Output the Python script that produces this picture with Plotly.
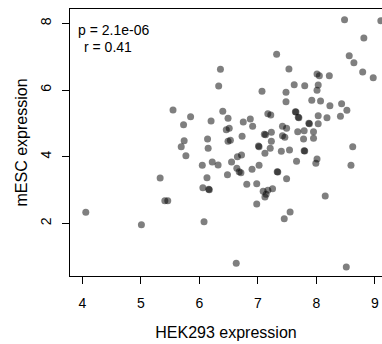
import plotly.graph_objects as go

# HEK293 expression (x) and mESC expression (y)
hek293 = [5.55, 5.73, 5.74, 5.69, 5.33, 5.41, 5.46, 4.06, 5.01, 7.32,
          6.36, 6.33, 7.07, 6.40, 5.85, 6.20, 6.49, 6.75, 6.87, 6.91,
          7.17, 7.22, 6.46, 6.51, 7.11, 7.13, 7.23, 6.73, 6.14, 6.49,
          6.53, 7.23, 8.48, 9.10, 8.81, 8.56, 8.64, 8.79, 8.97, 7.53,
          8.01, 8.05, 8.22, 7.62, 7.80, 8.03, 7.48, 8.01, 7.48, 7.92,
          8.07, 8.23, 8.43, 8.52, 8.41, 8.18, 8.03, 7.64, 7.69, 7.87,
          7.88, 8.03, 7.42, 7.49, 7.68, 7.79, 7.95, 7.42, 7.46, 7.78,
          7.95, 8.62, 5.77, 6.15, 7.01, 7.02, 7.21, 7.12, 7.40, 7.54,
          7.79, 7.80, 6.05, 6.22, 6.32, 6.55, 6.65, 6.72, 6.64, 6.68,
          6.71, 6.90, 7.02, 6.48, 6.13, 6.06, 6.16, 7.33, 7.34, 6.81,
          6.98, 7.09, 7.17, 7.14, 7.12, 7.25, 6.98, 6.08, 6.63, 7.66,
          8.01, 7.99, 8.59, 7.49, 8.15, 7.55, 7.45, 8.51, 6.17, 7.65,
          7.70]
mesc = [5.40, 4.96, 4.48, 4.30, 3.36, 2.68, 2.68, 2.33, 1.96, 7.07,
        6.62, 6.12, 5.96, 5.36, 5.20, 5.07, 5.15, 5.04, 5.13, 4.91,
        5.29, 5.25, 4.81, 4.85, 4.67, 4.66, 4.73, 4.61, 4.53, 4.46,
        4.49, 4.46, 8.11, 8.08, 7.56, 7.03, 6.82, 6.54, 6.37, 6.63,
        6.48, 6.43, 6.43, 6.16, 6.13, 6.15, 5.93, 5.99, 5.65, 5.69,
        5.67, 5.53, 5.59, 5.39, 5.21, 5.17, 5.23, 5.35, 5.18, 5.00,
        4.99, 4.99, 4.91, 4.85, 4.75, 4.78, 4.75, 4.63, 4.58, 4.53,
        4.55, 4.30, 4.03, 4.25, 4.32, 4.30, 4.25, 4.10, 4.16, 4.20,
        4.18, 4.17, 3.74, 3.84, 3.75, 3.84, 4.00, 4.05, 3.65, 3.55,
        3.52, 3.62, 3.74, 3.46, 3.37, 3.07, 3.02, 3.55, 3.54, 3.17,
        3.19, 2.96, 2.99, 2.87, 2.79, 3.04, 2.58, 2.05, 0.80, 3.86,
        3.93, 3.80, 3.74, 3.34, 2.82, 2.34, 2.14, 0.69, 3.01, 5.34,
        5.17]

x_ticks = [4, 5, 6, 7, 8, 9]
y_ticks = [2, 4, 6, 8]
stats_lines = ["p = 2.1e-06", "r = 0.41"]

FONT = "Liberation Sans, Arial, Helvetica, sans-serif"

fig = go.Figure()
fig.add_trace(go.Scatter(
    x=hek293, y=mesc, mode="markers",
    marker=dict(size=7, color="rgba(0,0,0,0.5)", line=dict(width=0)),
    showlegend=False, hoverinfo="skip",
))

axis_common = dict(
    showline=True, linecolor="black", linewidth=1,
    ticks="outside", ticklen=7, tickwidth=1, tickcolor="black",
    showgrid=False, zeroline=False,
    tickfont=dict(family=FONT, size=14, color="black"),
)

fig.update_layout(
    width=382, height=344,
    margin=dict(l=70, r=0, t=9, b=68),
    paper_bgcolor="white", plot_bgcolor="white",
    font=dict(family=FONT, color="black"),
    xaxis=dict(
        range=[3.79, 9.12], tickvals=x_ticks, ticktext=[str(v) for v in x_ticks],
        mirror=True, ticklabelstandoff=7,
        title=dict(text="HEK293 expression", font=dict(family=FONT, size=16), standoff=17),
        **axis_common,
    ),
    yaxis=dict(
        range=[0.42, 8.43], tickvals=y_ticks, ticktext=[str(v) for v in y_ticks],
        tickangle=-90, ticklabelstandoff=5,
        title=dict(text="mESC expression", font=dict(family=FONT, size=16), standoff=6),
        **axis_common,
    ),
)

fig.add_annotation(x=0.02, y=0.9225, xref="paper", yref="paper", text=stats_lines[0],
                   showarrow=False, xanchor="left", yanchor="middle",
                   font=dict(family=FONT, size=14, color="black"))
fig.add_annotation(x=0.038, y=0.8566, xref="paper", yref="paper", text=stats_lines[1],
                   showarrow=False, xanchor="left", yanchor="middle",
                   font=dict(family=FONT, size=14, color="black"))

fig.write_html("out.html")
